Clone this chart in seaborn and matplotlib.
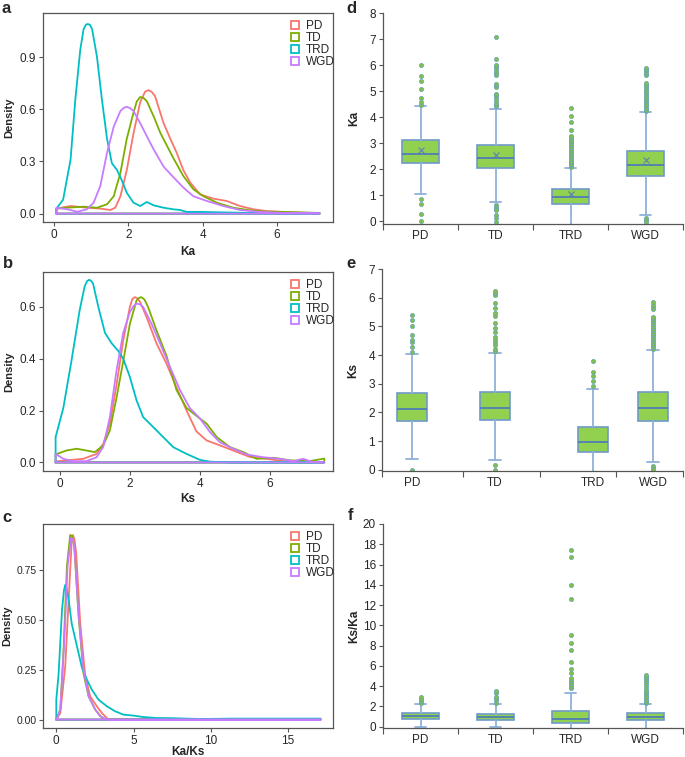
import matplotlib
matplotlib.use("Agg")
import matplotlib.pyplot as plt
from matplotlib.lines import Line2D
import pandas as pd
import seaborn as sns

groups = ["PD", "TD", "TRD", "WGD"]
palette = {"PD": "#F8766D", "TD": "#7CAE00", "TRD": "#00BFC4", "WGD": "#C77CFF"}

# ---- density curves (panels a-c) ----
# a: Ka
ka_pd_x = [0.07, 0.45, 0.89, 1.25, 1.52, 1.65, 1.79, 1.96, 2.14, 2.32, 2.45, 2.54, 2.63, 2.72, 2.95, 3.13, 3.30, 3.48, 3.66, 3.93, 4.29, 4.64, 5.00, 5.36, 5.71, 6.16, 6.61, 7.14]
ka_pd_y = [0.029, 0.044, 0.034, 0.029, 0.021, 0.034, 0.10, 0.25, 0.46, 0.64, 0.70, 0.71, 0.70, 0.675, 0.52, 0.43, 0.35, 0.25, 0.18, 0.11, 0.086, 0.073, 0.044, 0.025, 0.015, 0.010, 0.006, 0.003]
ka_td_x = [0.07, 0.36, 0.80, 1.16, 1.43, 1.61, 1.79, 1.96, 2.14, 2.23, 2.32, 2.41, 2.50, 2.68, 2.86, 3.04, 3.21, 3.48, 3.75, 4.02, 4.38, 4.82, 5.27, 5.71, 6.16, 7.14]
ka_td_y = [0.029, 0.034, 0.040, 0.034, 0.054, 0.10, 0.235, 0.43, 0.58, 0.645, 0.67, 0.665, 0.646, 0.56, 0.465, 0.39, 0.32, 0.216, 0.14, 0.10, 0.063, 0.034, 0.019, 0.011, 0.010, 0.004]
ka_trd_x = [0.07, 0.25, 0.45, 0.58, 0.71, 0.80, 0.86, 0.91, 0.97, 1.03, 1.16, 1.29, 1.43, 1.56, 1.70, 1.83, 1.96, 2.14, 2.32, 2.50, 2.68, 2.95, 3.21, 3.39, 3.57, 3.93, 4.82, 5.71, 7.14]
ka_trd_y = [0.029, 0.08, 0.31, 0.66, 0.94, 1.06, 1.085, 1.09, 1.085, 1.06, 0.90, 0.66, 0.43, 0.29, 0.25, 0.19, 0.12, 0.063, 0.044, 0.067, 0.048, 0.034, 0.025, 0.021, 0.010, 0.010, 0.006, 0.002, 0.001]
ka_wgd_x = [0.07, 0.36, 0.63, 0.89, 1.07, 1.25, 1.43, 1.61, 1.79, 1.88, 1.96, 2.05, 2.14, 2.32, 2.50, 2.68, 2.95, 3.21, 3.48, 3.75, 4.11, 4.55, 5.00, 5.54, 6.16, 7.14]
ka_wgd_y = [0.034, 0.025, 0.011, 0.025, 0.063, 0.16, 0.35, 0.50, 0.59, 0.608, 0.614, 0.606, 0.59, 0.52, 0.445, 0.37, 0.27, 0.21, 0.15, 0.10, 0.073, 0.044, 0.021, 0.010, 0.004, 0.002]

# b: Ks
ks_pd_x = [-0.12, 0.19, 0.67, 1.05, 1.24, 1.43, 1.62, 1.81, 2.00, 2.07, 2.14, 2.21, 2.29, 2.48, 2.76, 3.05, 3.33, 3.62, 3.90, 4.19, 4.57, 4.95, 5.43, 5.90, 6.38, 6.86, 7.00]
ks_pd_y = [0.004, 0.008, 0.014, 0.033, 0.072, 0.15, 0.30, 0.47, 0.60, 0.63, 0.638, 0.634, 0.62, 0.56, 0.46, 0.38, 0.29, 0.20, 0.12, 0.085, 0.066, 0.046, 0.021, 0.014, 0.005, 0.003, 0.002]
ks_td_x = [-0.12, 0.19, 0.48, 0.76, 1.00, 1.24, 1.43, 1.62, 1.81, 2.00, 2.19, 2.26, 2.33, 2.42, 2.52, 2.76, 3.05, 3.33, 3.62, 3.90, 4.19, 4.48, 4.86, 5.24, 5.62, 6.10, 6.57, 7.14, 7.55]
ks_td_y = [0.031, 0.046, 0.053, 0.046, 0.040, 0.066, 0.124, 0.25, 0.39, 0.535, 0.625, 0.635, 0.638, 0.628, 0.60, 0.51, 0.41, 0.28, 0.21, 0.18, 0.15, 0.098, 0.059, 0.040, 0.014, 0.018, 0.008, 0.005, 0.015]
ks_trd_x = [-0.12, -0.12, 0.10, 0.33, 0.57, 0.71, 0.78, 0.84, 0.90, 0.95, 1.10, 1.29, 1.48, 1.67, 1.81, 2.00, 2.19, 2.38, 2.67, 2.95, 3.24, 3.62, 4.00, 4.29, 4.86]
ks_trd_y = [0.0, 0.098, 0.21, 0.39, 0.59, 0.68, 0.70, 0.705, 0.70, 0.69, 0.60, 0.50, 0.46, 0.43, 0.40, 0.33, 0.24, 0.175, 0.136, 0.098, 0.059, 0.033, 0.010, 0.003, 0.0]
ks_wgd_x = [-0.12, 0.10, 0.38, 0.76, 1.05, 1.24, 1.43, 1.62, 1.81, 2.00, 2.10, 2.19, 2.29, 2.38, 2.62, 2.86, 3.14, 3.43, 3.71, 4.00, 4.29, 4.57, 4.95, 5.33, 5.81, 6.29, 6.67, 6.95, 7.24]
ks_wgd_y = [0.033, 0.014, 0.005, 0.005, 0.020, 0.060, 0.175, 0.355, 0.50, 0.58, 0.603, 0.613, 0.61, 0.60, 0.535, 0.46, 0.37, 0.28, 0.21, 0.17, 0.117, 0.078, 0.053, 0.031, 0.020, 0.014, 0.005, 0.014, 0.001]

# c: Ka/Ks
kk_pd_x = [0.0, 0.26, 0.58, 0.80, 1.00, 1.08, 1.18, 1.29, 1.55, 1.87, 2.19, 2.62, 2.95, 3.27, 3.40]
kk_pd_y = [0.0, 0.033, 0.27, 0.60, 0.90, 0.925, 0.90, 0.83, 0.48, 0.22, 0.117, 0.067, 0.033, 0.008, 0.002]
kk_td_x = [0.0, 0.26, 0.47, 0.69, 0.90, 1.02, 1.16, 1.44, 1.76, 2.09, 2.52, 2.84, 3.00, 3.05]
kk_td_y = [0.0, 0.05, 0.35, 0.77, 0.925, 0.92, 0.87, 0.52, 0.23, 0.117, 0.05, 0.02, 0.008, 0.002]
kk_trd_x = [0.0, 0.0, 0.15, 0.37, 0.50, 0.58, 0.66, 0.80, 1.00, 1.33, 1.66, 1.98, 2.30, 2.73, 3.27, 3.80, 4.34, 4.99, 5.63, 6.49, 7.57, 9.29, 11.4, 13.6, 15.7, 17.1]
kk_trd_y = [0.0, 0.10, 0.23, 0.55, 0.65, 0.675, 0.66, 0.60, 0.48, 0.37, 0.26, 0.20, 0.15, 0.10, 0.067, 0.042, 0.025, 0.020, 0.013, 0.008, 0.007, 0.003, 0.005, 0.005, 0.005, 0.005]
kk_wgd_x = [0.0, 0.26, 0.52, 0.73, 0.95, 1.05, 1.16, 1.44, 1.76, 2.09, 2.52, 2.84, 3.16, 3.40]
kk_wgd_y = [0.0, 0.05, 0.40, 0.77, 0.91, 0.905, 0.875, 0.53, 0.25, 0.117, 0.05, 0.017, 0.005, 0.0]

# ---- box plot summaries (panels d-f), order PD, TD, TRD, WGD ----
ka_q1 = [2.23, 2.06, 0.67, 1.72]
ka_med = [2.59, 2.44, 0.92, 2.14]
ka_q3 = [3.10, 2.94, 1.23, 2.68]
ka_lo = [1.05, 0.72, -0.3, 0.22]
ka_hi = [4.43, 4.31, 2.04, 4.18]
ka_mean = [2.72, 2.54, 1.06, 2.36]
ka_out_pd = [4.46, 4.58, 4.73, 5.08, 5.37, 5.56, 5.99, 0.86, 0.67, 0.29, 0.0]
ka_out_td = [4.41, 4.48, 4.54, 4.67, 4.77, 4.84, 4.90, 5.15, 5.22, 5.28, 5.63, 5.70, 5.76, 5.88, 5.95, 6.01, 6.24, 7.08, 0.62, 0.56, 0.48, 0.41, 0.24, 0.12, -0.05]
ka_out_trd = [2.10, 2.15, 2.21, 2.26, 2.32, 2.38, 2.45, 2.51, 2.58, 2.64, 2.70, 2.77, 2.84, 2.90, 2.97, 3.03, 3.09, 3.15, 3.22, 3.28, 3.49, 3.82, 4.05, 4.33]
ka_out_wgd = [4.24, 4.28, 4.35, 4.41, 4.48, 4.54, 4.60, 4.67, 4.73, 4.79, 4.86, 4.92, 4.98, 5.05, 5.11, 5.18, 5.25, 5.31, 5.60, 5.67, 5.73, 5.79, 5.84, 5.88, 0.12, 0.03, -0.05]

ks_q1 = [1.71, 1.74, 0.62, 1.71]
ks_med = [2.12, 2.15, 0.97, 2.15]
ks_q3 = [2.67, 2.70, 1.49, 2.71]
ks_lo = [0.38, 0.35, -0.3, 0.26]
ks_hi = [4.03, 4.07, 2.81, 4.19]
ks_out_pd = [4.12, 4.28, 4.44, 4.53, 4.71, 5.00, 5.23, 5.38, 0.0]
ks_out_td = [4.15, 4.22, 4.36, 4.44, 4.51, 4.63, 4.79, 4.94, 5.12, 5.37, 5.47, 5.64, 5.81, 6.10, 6.16, 6.22, 0.17, -0.02]
ks_out_trd = [2.93, 3.08, 3.28, 3.40, 3.81]
ks_out_wgd = [4.22, 4.28, 4.34, 4.40, 4.46, 4.51, 4.57, 4.63, 4.69, 4.74, 4.80, 4.86, 4.92, 4.98, 5.05, 5.12, 5.18, 5.23, 5.28, 5.33, 5.60, 5.67, 5.76, 5.84, 0.14, 0.06, -0.02]

kr_q1 = [0.76, 0.66, 0.39, 0.66]
kr_med = [1.05, 0.99, 0.76, 0.92]
kr_q3 = [1.38, 1.25, 1.58, 1.32]
kr_lo = [0.0, 0.0, -0.5, -0.5]
kr_hi = [2.24, 2.24, 3.29, 2.24]
kr_out_pd = [2.30, 2.55, 2.70, 2.90]
kr_out_td = [2.30, 2.63, 2.80, 2.96, 3.29, 3.55]
kr_out_trd = [3.78, 3.95, 4.11, 4.27, 4.44, 4.60, 4.77, 5.26, 5.66, 6.35, 7.57, 8.29, 9.05, 12.57, 13.98, 16.78, 17.43]
kr_out_wgd = [2.30, 2.47, 2.63, 2.80, 2.96, 3.12, 3.29, 3.45, 3.62, 3.88, 4.18, 4.44, 4.60, 4.77, 4.94, 5.10]

W, H = 685, 757


def frame(l, t, r, b):
    return [l / W, 1 - b / H, (r - l) / W, (b - t) / H]


def density_panel(ax, curves, x_end, label_x=-0.1):
    rows = []
    for g in groups:
        xs, ys = curves[g]
        # closed outline, like geom_density draws it
        px = [xs[0]] + xs + [x_end, xs[0]]
        py = [0.0] + ys + [0.0, 0.0]
        for i in range(len(px)):
            rows.append((g, i, px[i], py[i]))
    df = pd.DataFrame(rows, columns=["group", "step", "x", "y"])
    sns.lineplot(data=df, x="x", y="y", hue="group", hue_order=groups,
                 palette=palette, sort=False, estimator=None, lw=1.3,
                 legend=False, ax=ax)
    for s in ax.spines.values():
        s.set_color("#555555")
        s.set_linewidth(0.9)
    ax.tick_params(length=3, width=0.8, color="#555555", labelsize=8.5, pad=2)
    handles = [Line2D([], [], ls="none", marker="s", ms=5.5, mfc="white",
                      mec=palette[g], mew=1.3) for g in groups]
    ax.legend(handles, groups, loc="upper right", bbox_to_anchor=(1.03, 1.0),
              frameon=False, fontsize=8.5, handlelength=0.8, handletextpad=0.5,
              labelspacing=0.0, borderaxespad=0.2)
    ax.set_ylabel("Density", fontweight="bold", fontsize=8)
    ax.yaxis.set_label_coords(label_x, 0.5)


def box_panel(ax, q1, med, q3, lo, hi, outs, positions, width, mean=None):
    stats = []
    for i, g in enumerate(groups):
        d = dict(label=g, q1=q1[i], med=med[i], q3=q3[i],
                 whislo=lo[i], whishi=hi[i], fliers=outs[i])
        if mean is not None:
            d["mean"] = mean[i]
        stats.append(d)
    ax.bxp(stats, positions=positions, widths=width, showmeans=mean is not None,
           patch_artist=True, capwidths=0.15,
           boxprops=dict(facecolor="#92D050", edgecolor="#6F9ACB", lw=1.2),
           medianprops=dict(color="#4F7DB5", lw=1.3),
           whiskerprops=dict(color="#8DB1DA", lw=1.3),
           capprops=dict(color="#8DB1DA", lw=1.3),
           flierprops=dict(marker="o", ms=3.0, mfc="#7DC04B", mec="#6AA3B5",
                           mew=0.5, ls="none"),
           meanprops=dict(marker="x", ms=5, mec="#5B82B0", mew=0.8))
    sns.despine(ax=ax)
    for s in ("left", "bottom"):
        ax.spines[s].set_color("#555555")
        ax.spines[s].set_linewidth(0.9)
    ax.set_xlim(0.5, 4.5)
    ax.set_xticks(positions)
    ax.set_xticklabels(groups)
    ax.set_xticks([0.5, 1.5, 2.5, 3.5, 4.5], minor=True)
    ax.tick_params(axis="x", which="major", length=0, labelsize=8.5, pad=4)
    ax.tick_params(axis="x", which="minor", length=4, width=0.8, color="#555555")
    ax.tick_params(axis="y", length=3, width=0.8, color="#555555", labelsize=8.5, pad=2)
    ax.yaxis.set_label_coords(-0.075, 0.5)


sns.set_style("ticks")
plt.rcParams["font.family"] = ["Liberation Sans", "DejaVu Sans"]

fig = plt.figure(figsize=(W / 100, H / 100), dpi=100)

# a
ax = fig.add_axes(frame(43, 13, 333, 222))
density_panel(ax, {"PD": (ka_pd_x, ka_pd_y), "TD": (ka_td_x, ka_td_y),
                   "TRD": (ka_trd_x, ka_trd_y), "WGD": (ka_wgd_x, ka_wgd_y)}, 7.14)
ax.set_xlim(-0.29, 7.5)
ax.set_ylim(-0.048, 1.153)
ax.set_xticks([0, 2, 4, 6])
ax.set_yticks([0, 0.3, 0.6, 0.9])
ax.set_yticklabels(["0.0", "0.3", "0.6", "0.9"])
ax.set_xlabel("Ka", fontweight="bold", fontsize=8.5)
ax.xaxis.set_label_coords(0.5, -0.115)

# b
ax = fig.add_axes(frame(43, 272, 333, 471))
density_panel(ax, {"PD": (ks_pd_x, ks_pd_y), "TD": (ks_td_x, ks_td_y),
                   "TRD": (ks_trd_x, ks_trd_y), "WGD": (ks_wgd_x, ks_wgd_y)}, 7.55)
ax.set_xlim(-0.48, 7.8)
ax.set_ylim(-0.033, 0.735)
ax.set_xticks([0, 2, 4, 6])
ax.set_yticks([0, 0.2, 0.4, 0.6])
ax.set_yticklabels(["0.0", "0.2", "0.4", "0.6"])
ax.set_xlabel("Ks", fontweight="bold", fontsize=8.5)
ax.xaxis.set_label_coords(0.5, -0.11)

# c
ax = fig.add_axes(frame(43, 524, 333, 728))
density_panel(ax, {"PD": (kk_pd_x, kk_pd_y), "TD": (kk_td_x, kk_td_y),
                   "TRD": (kk_trd_x, kk_trd_y), "WGD": (kk_wgd_x, kk_wgd_y)}, 17.1,
              label_x=-0.105)
ax.set_xlim(-0.86, 17.9)
ax.set_ylim(-0.042, 0.98)
ax.set_xticks([0, 5, 10, 15])
ax.set_yticks([0, 0.25, 0.5, 0.75])
ax.set_yticklabels(["0.00", "0.25", "0.50", "0.75"])
ax.tick_params(axis="y", labelsize=7.5, pad=1.5)
ax.set_xlabel("Ka/Ks", fontweight="bold", fontsize=8.5)
ax.xaxis.set_label_coords(0.5, -0.088)

# d
ax = fig.add_axes(frame(383, 13, 683, 224))
box_panel(ax, ka_q1, ka_med, ka_q3, ka_lo, ka_hi,
          [ka_out_pd, ka_out_td, ka_out_trd, ka_out_wgd], [1, 2, 3, 4], 0.5, ka_mean)
ax.set_ylim(-0.11, 8)
ax.set_yticks(range(0, 9))
ax.set_ylabel("Ka", fontweight="bold", fontsize=8.5)

# e
ax = fig.add_axes(frame(382, 269, 683, 471))
box_panel(ax, ks_q1, ks_med, ks_q3, ks_lo, ks_hi,
          [ks_out_pd, ks_out_td, ks_out_trd, ks_out_wgd], [0.9, 2.0, 3.3, 4.1], 0.4)
ax.set_xticks([0.5, 1.58, 2.6, 3.61, 4.5], minor=True)
ax.set_ylim(-0.04, 7)
ax.set_yticks(range(0, 8))
ax.set_ylabel("Ks", fontweight="bold", fontsize=8.5)

# f
ax = fig.add_axes(frame(383, 524, 683, 728))
box_panel(ax, kr_q1, kr_med, kr_q3, kr_lo, kr_hi,
          [kr_out_pd, kr_out_td, kr_out_trd, kr_out_wgd], [1, 2, 3, 4], 0.5)
ax.set_ylim(-0.13, 20)
ax.set_yticks(range(0, 21, 2))
ax.set_ylabel("Ks/Ka", fontweight="bold", fontsize=8.5)

for letter, x, y in [("a", 2, 13), ("b", 3, 268), ("c", 2, 522),
                     ("d", 346, 13), ("e", 346, 268), ("f", 348, 520)]:
    fig.text(x / W, 1 - y / H, letter, fontsize=12, fontweight="bold", va="baseline")

fig.savefig("out.png", dpi=100)
